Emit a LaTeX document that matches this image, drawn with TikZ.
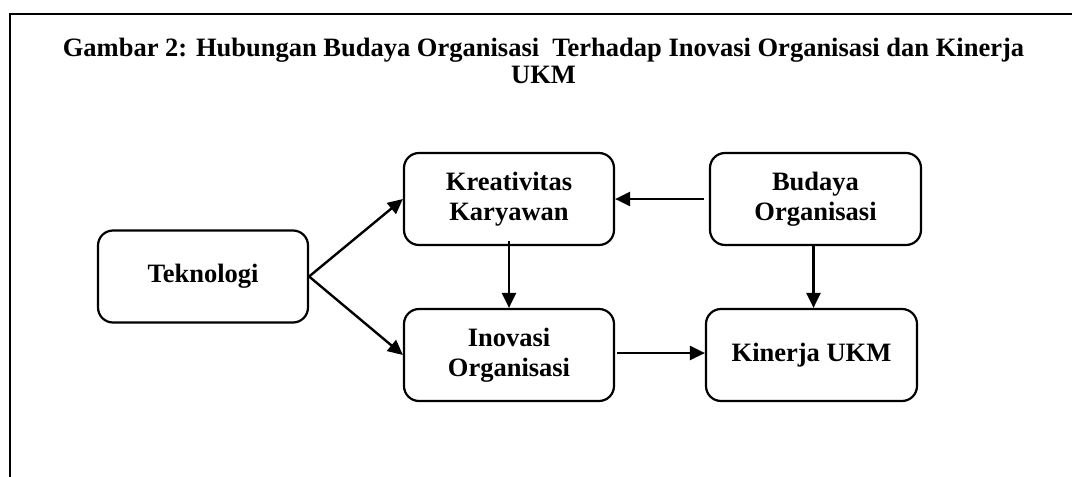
\documentclass[tikz,border=0pt]{standalone}
\usepackage{fontspec}
\setmainfont{Liberation Serif}
\usetikzlibrary{arrows.meta}
\begin{document}
\begin{tikzpicture}[x=1pt,y=-1pt,
  txt/.style={font=\fontsize{26.5}{30}\selectfont\bfseries},
  boxnode/.style={txt,draw,line width=2.2pt,rounded corners=15pt,minimum width=210pt,minimum height=92pt,inner sep=0pt,align=center},
  arr/.style={line width=2.4pt,-{Triangle[length=15pt,width=14pt]}},
  frame/.style={line width=2pt,line join=miter}]
\useasboundingbox (0,0) rectangle (1072,477);
\coordinate (fa) at (10,477);
\coordinate (fb) at (10,13.5);
\coordinate (fc) at (1072,13.5);
\draw[frame] (fa) -- (fb) -- (fc);
\node[txt,align=center,font=\fontsize{26.5}{27}\selectfont\bfseries] (title) at (543.5,61) {Gambar 2: Hubungan Budaya Organisasi\ \ Terhadap Inovasi Organisasi dan Kinerja\\UKM};
\node[boxnode] (tek) at (203,276.5) {Teknologi};
\node[boxnode] (kre) at (509,199) {Kreativitas\\Karyawan};
\node[boxnode] (ino) at (509,355) {Inovasi\\Organisasi};
\node[boxnode,minimum width=211pt] (bud) at (815.5,199) {Budaya\\Organisasi};
\node[boxnode,minimum width=211pt] (kin) at (811.5,355) {Kinerja UKM};
\draw[arr] (tek.east) -- (kre.west);
\draw[arr] (tek.east) -- (ino.west);
\draw[arr] ([xshift=-5pt]bud.west) -- (kre.east);
\draw[arr] ([yshift=5pt]kre.south) -- (ino.north);
\draw[arr] ([xshift=-2pt]bud.south) -- ([xshift=-2pt]bud.south |- kin.north);
\draw[arr] ([xshift=2pt,yshift=2pt]ino.east) -- ([yshift=2pt]kin.west);
\end{tikzpicture}
\end{document}
